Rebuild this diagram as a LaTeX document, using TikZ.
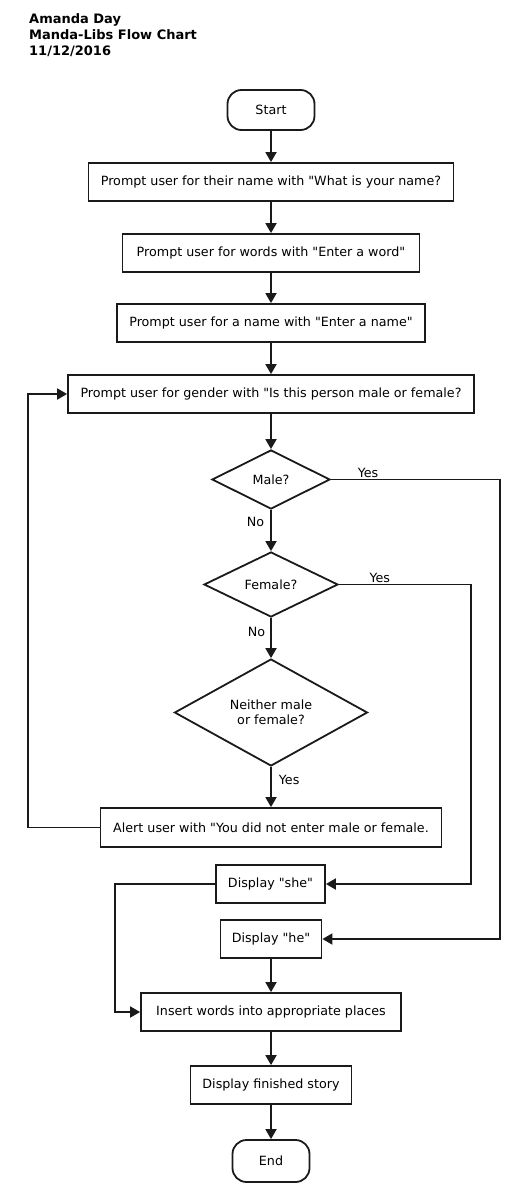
\documentclass[tikz,border=0pt]{standalone}
\usepackage{fontspec}
\setmainfont{DejaVu Sans}[Ligatures=TeXOff]
\usetikzlibrary{arrows.meta,shapes.geometric}
\definecolor{inkgrey}{RGB}{26,26,26}
\tikzset{
  base/.style={font=\fontsize{12.7}{14.7}\selectfont, align=center, inner sep=0pt, text=black},
  box/.style={base, rectangle, draw=inkgrey, fill=white, line width=1.8pt, minimum height=38pt},
  term/.style={box, rounded corners=14pt, minimum height=40pt},
  dec/.style={base, diamond, draw=inkgrey, fill=white, line width=1.8pt},
  arr/.style={-{Triangle[length=10pt,width=11pt]}, line width=1.8pt, draw=inkgrey},
  lbl/.style={base, inner sep=1pt},
  titlelbl/.style={font=\fontsize{13}{15}\selectfont\bfseries, anchor=base west, inner sep=0pt},
}

\begin{document}
\begin{tikzpicture}[x=1pt,y=-1pt]
  \useasboundingbox (0,0) rectangle (523,1199);
  \foreach \y/\t [count=\i] in {24/{Amanda Day},40/{Manda-Libs Flow Chart},56/{11/12/2016}}{
    \node[titlelbl] (title\i) at (29,\y) {\t};
  }
  \node[term,minimum width=87pt] (start) at (271,110) {Start};
  \node[box,minimum width=365pt] (askname) at (271,182) {Prompt user for their name with "What is your name?};
  \node[box,minimum width=297pt] (askwords) at (271,253) {Prompt user for words with "Enter a word"};
  \node[box,minimum width=308pt] (askaname) at (271,323) {Prompt user for a name with "Enter a name"};
  \node[box,minimum width=406pt] (askgender) at (271,394) {Prompt user for gender with "Is this person male or female?};
  \node[dec,minimum width=118pt,minimum height=59pt] (male) at (271,479.5) {Male?};
  \node[dec,minimum width=134pt,minimum height=65pt] (female) at (271,584.5) {Female?};
  \node[dec,minimum width=193pt,minimum height=103pt] (neither) at (271,712.5) {Neither male\\or female?};
  \node[box,minimum width=341pt,minimum height=39pt] (alert) at (271,827.5) {Alert user with "You did not enter male or female.};
  \node[box,minimum width=109pt] (she) at (270.5,884) {Display "she"};
  \node[box,minimum width=101pt] (he) at (271,939) {Display "he"};
  \node[box,minimum width=260pt] (insert) at (271,1012) {Insert words into appropriate places};
  \node[box,minimum width=161pt] (story) at (271,1085) {Display finished story};
  \node[term,minimum width=77pt,minimum height=42pt] (end) at (271,1161) {End};
  % routing columns
  \coordinate (loopx) at (28,0);
  \coordinate (shex) at (115,0);
  \coordinate (femx) at (471,0);
  \coordinate (malex) at (500,0);
  % main line
  \draw[arr] (start) -- (askname);
  \draw[arr] (askname) -- (askwords);
  \draw[arr] (askwords) -- (askaname);
  \draw[arr] (askaname) -- (askgender);
  \draw[arr] (askgender) -- (male);
  \draw[arr] (male) -- node[lbl,left=5pt,pos=0.3] {No} (female);
  \draw[arr] (female) -- node[lbl,left=4pt,pos=0.36] {No} (neither);
  \draw[arr] (neither) -- node[lbl,right=6pt,pos=0.32] {Yes} (alert);
  \draw[arr] (alert.west) -- (alert.west -| loopx) |- (askgender.west);
  % yes branches
  \draw[arr] (male.east) -- node[lbl,above,pos=0.22] {Yes} (male.east -| malex) |- (he.east);
  \draw[arr] (female.east) -- node[lbl,above,pos=0.31] {Yes} (female.east -| femx) |- (she.east);
  \draw[arr] (she.west) -- (she.west -| shex) |- (insert.west);
  \draw[arr] (he) -- (insert);
  \draw[arr] (insert) -- (story);
  \draw[arr] (story) -- (end);
\end{tikzpicture}
\end{document}
